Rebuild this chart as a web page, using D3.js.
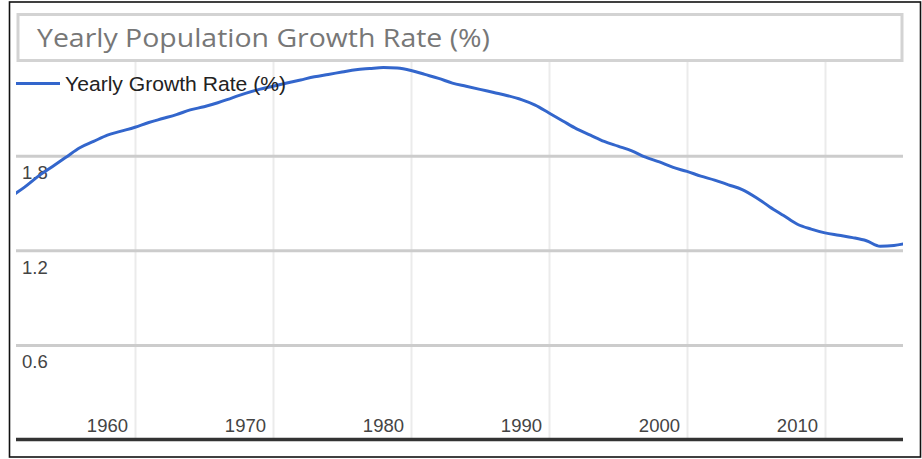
<!DOCTYPE html>
<html>
<head>
<meta charset="utf-8">
<script src="https://cdn.jsdelivr.net/npm/d3@7"></script>
<style>
  html, body { margin: 0; padding: 0; background: #fff; }
  svg { display: block; }
</style>
</head>
<body>
<svg id="chart" width="922" height="459"></svg>
<script>
const titleText = "Yearly Population Growth Rate (%)";
const seriesName = "Yearly Growth Rate (%)";
const years = [1951,1952,1953,1954,1955,1956,1957,1958,1959,1960,1961,1962,1963,1964,1965,1966,1967,1968,1969,1970,
  1971,1972,1973,1974,1975,1976,1977,1978,1979,1980,1981,1982,1983,1984,1985,1986,1987,1988,1989,1990,
  1991,1992,1993,1994,1995,1996,1997,1998,1999,2000,2001,2002,2003,2004,2005,2006,2007,2008,2009,2010,
  2011,2012,2013,2014,2015,2016];
const growthRate = [1.54,1.60,1.67,1.73,1.79,1.85,1.89,1.93,1.955,1.98,2.01,2.035,2.06,2.09,2.11,2.135,2.165,2.195,2.22,2.24,
  2.26,2.28,2.30,2.315,2.33,2.345,2.352,2.358,2.355,2.34,2.315,2.29,2.26,2.24,2.22,2.20,2.18,2.155,2.12,2.07,
  2.02,1.97,1.93,1.89,1.86,1.83,1.79,1.76,1.725,1.70,1.67,1.645,1.615,1.585,1.535,1.475,1.42,1.365,1.334,1.31,
  1.295,1.28,1.26,1.225,1.23,1.245];
const xTicks = [1960,1970,1980,1990,2000,2010];
const yTicks = [0.6,1.2,1.8];

const svg = d3.select("#chart");
const plot = {left: 16, right: 903, top: 61, bottom: 439.5};

const x = d3.scaleLinear().domain([1960, 2010]).range([135, 825]);
const y = d3.scaleLinear().domain([0, 2.4]).range([plot.bottom, plot.top]);

// outer frame
svg.append("rect").attr("x", 9.5).attr("y", 2).attr("width", 911).attr("height", 455)
  .attr("fill", "none").attr("stroke", "#111").attr("stroke-width", 1.6);

svg.append("clipPath").attr("id", "clip").append("rect")
  .attr("x", plot.left).attr("y", plot.top - 20)
  .attr("width", plot.right - plot.left).attr("height", plot.bottom - plot.top + 20);

// vertical gridlines
const xGrid = svg.append("g").attr("transform", `translate(0,${plot.bottom})`)
  .call(d3.axisBottom(x).tickValues(xTicks).tickSize(-(plot.bottom - plot.top)).tickFormat(""));
xGrid.select(".domain").remove();
xGrid.selectAll("line").attr("stroke", "#ebebeb").attr("stroke-width", 2);

// horizontal gridlines
const yGrid = svg.append("g").attr("transform", `translate(${plot.left},0)`)
  .call(d3.axisLeft(y).tickValues(yTicks).tickSize(-(plot.right - plot.left)).tickFormat(""));
yGrid.select(".domain").remove();
yGrid.selectAll("line").attr("stroke", "#cccccc").attr("stroke-width", 3);

// y labels
svg.append("g").selectAll("text").data(yTicks).join("text")
  .attr("x", 22).attr("y", d => y(d) + 23.5)
  .attr("font-family", "Arial, 'Liberation Sans', sans-serif").attr("font-size", 18.5)
  .attr("fill", "#444").text(d => d3.format(".1f")(d));

// x labels
svg.append("g").selectAll("text").data(xTicks).join("text")
  .attr("x", d => x(d) - 7).attr("y", 431.5).attr("text-anchor", "end")
  .attr("font-family", "Arial, 'Liberation Sans', sans-serif").attr("font-size", 18.5)
  .attr("fill", "#444").text(d => d);

// baseline axis
svg.append("line").attr("x1", plot.left).attr("x2", plot.right)
  .attr("y1", y(0)).attr("y2", y(0)).attr("stroke", "#333").attr("stroke-width", 3.5);

// data line
const line = d3.line().x((d, i) => x(years[i])).y(d => y(d)).curve(d3.curveMonotoneX);
svg.append("path").datum(growthRate).attr("clip-path", "url(#clip)")
  .attr("d", line).attr("fill", "none").attr("stroke", "#3366cc").attr("stroke-width", 3)
  .attr("stroke-linejoin", "round");

// legend
svg.append("line").attr("x1", 16).attr("x2", 60).attr("y1", 83.5).attr("y2", 83.5)
  .attr("stroke", "#3366cc").attr("stroke-width", 3);
svg.append("text").attr("x", 65).attr("y", 91)
  .attr("font-family", "Arial, 'Liberation Sans', sans-serif").attr("font-size", 20.5)
  .attr("textLength", 221).attr("lengthAdjust", "spacingAndGlyphs")
  .attr("fill", "#222").text(seriesName);

// title box
svg.append("rect").attr("x", 18).attr("y", 14.5).attr("width", 884).attr("height", 46)
  .attr("fill", "#fff").attr("stroke", "#d3d3d3").attr("stroke-width", 3);
svg.append("text").attr("x", 37).attr("y", 47)
  .attr("font-family", "'Open Sans', sans-serif").attr("font-size", 26)
  .attr("textLength", 453).attr("lengthAdjust", "spacingAndGlyphs")
  .attr("fill", "#777").text(titleText);
</script>
</body>
</html>
